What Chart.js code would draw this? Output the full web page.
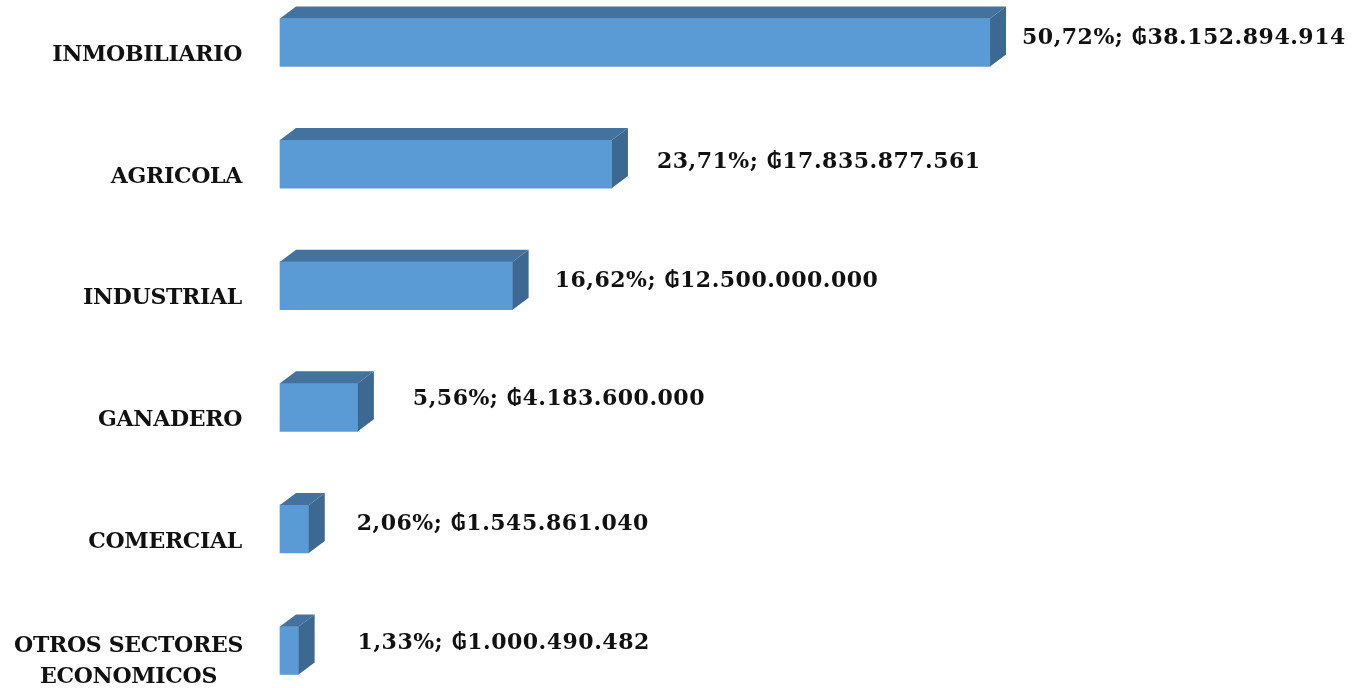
<!DOCTYPE html>
<html>
<head>
<meta charset="utf-8">
<script src="https://cdn.jsdelivr.net/npm/chart.js@4.4.1/dist/chart.umd.min.js"></script>
<style>
  html, body { margin: 0; padding: 0; background: #ffffff; }
  #wrap { width: 1354px; height: 688px; position: relative; }
</style>
</head>
<body>
<div id="wrap"><canvas id="c"></canvas></div>
<script>
// ---- Data ----
const categories = ['INMOBILIARIO', 'AGRICOLA', 'INDUSTRIAL', 'GANADERO', 'COMERCIAL', ['OTROS SECTORES', 'ECONOMICOS']];
const amounts = [38152894914, 17835877561, 12500000000, 4183600000, 1545861040, 1000490482];
const percents = ['50,72%', '23,71%', '16,62%', '5,56%', '2,06%', '1,33%'];

// ---- Style (label placement, as hand-placed in the original) ----
const labelGaps = [16, 29, 26, 39, 32, 43];
const labelDy = [-4.5, -2, -4.5, -8.5, -5, -7.5];
const FONT = 'bold 22px "DejaVu Serif", "DejaVu Sans", serif';
const FRONT = '#5B9BD5', TOP = '#44729F', SIDE = '#3D6891';
const DX = 16, DY = 12;

function fmtAmount(v) {
  return '\u20B2' + String(v).replace(/\B(?=(\d{3})+(?!\d))/g, '.');
}

const bar3d = {
  id: 'bar3d',
  afterDatasetsDraw(chart) {
    const ctx = chart.ctx;
    const meta = chart.getDatasetMeta(0);
    ctx.save();
    meta.data.forEach((el, i) => {
      const p = el.getProps(['x', 'y', 'base', 'height'], true);
      const top = p.y - p.height / 2, bot = p.y + p.height / 2;
      // top face
      ctx.fillStyle = TOP;
      ctx.beginPath();
      ctx.moveTo(p.base, top);
      ctx.lineTo(p.base + DX, top - DY);
      ctx.lineTo(p.x + DX, top - DY);
      ctx.lineTo(p.x, top);
      ctx.closePath();
      ctx.fill();
      // side face
      ctx.fillStyle = SIDE;
      ctx.beginPath();
      ctx.moveTo(p.x, top);
      ctx.lineTo(p.x + DX, top - DY);
      ctx.lineTo(p.x + DX, bot - DY);
      ctx.lineTo(p.x, bot);
      ctx.closePath();
      ctx.fill();
      // value label
      ctx.fillStyle = '#111111';
      ctx.font = FONT;
      ctx.letterSpacing = '0.5px';
      ctx.textAlign = 'left';
      ctx.textBaseline = 'middle';
      ctx.fillText(percents[i] + '; ' + fmtAmount(amounts[i]), p.x + DX + labelGaps[i], p.y + labelDy[i]);
    });
    // category labels
    const ys = chart.scales.y;
    ctx.font = FONT;
    ctx.letterSpacing = '-0.3px';
    ctx.fillStyle = '#111111';
    ctx.textBaseline = 'middle';
    categories.forEach((lab, i) => {
      const yc = ys.getPixelForTick(i) + 13;
      if (Array.isArray(lab)) {
        const w = Math.max(...lab.map(l => ctx.measureText(l).width));
        const cx = 243 - w / 2;
        ctx.textAlign = 'center';
        const lh = 31;
        lab.forEach((l, k) => ctx.fillText(l, cx, yc - 2 + (k - (lab.length - 1) / 2) * lh));
      } else {
        ctx.textAlign = 'right';
        ctx.fillText(lab, 242, yc);
      }
    });
    ctx.restore();
  }
};

new Chart(document.getElementById('c'), {
  type: 'bar',
  data: {
    labels: categories,
    datasets: [{
      data: amounts,
      backgroundColor: FRONT,
      borderWidth: 0,
      barThickness: 48,
      clip: false
    }]
  },
  options: {
    indexAxis: 'y',
    responsive: true,
    maintainAspectRatio: false,
    animation: false,
    layout: { padding: { top: 42.5, bottom: 37.5, left: 0, right: 0 } },
    plugins: { legend: { display: false }, tooltip: { enabled: false } },
    scales: {
      x: { display: false, min: 0, max: 57.71e9 },
      y: {
        offset: false,
        grid: { display: false },
        border: { display: false },
        ticks: { display: false },
        afterFit(s) { s.width = 280; }
      }
    }
  },
  plugins: [bar3d]
});
</script>
</body>
</html>
